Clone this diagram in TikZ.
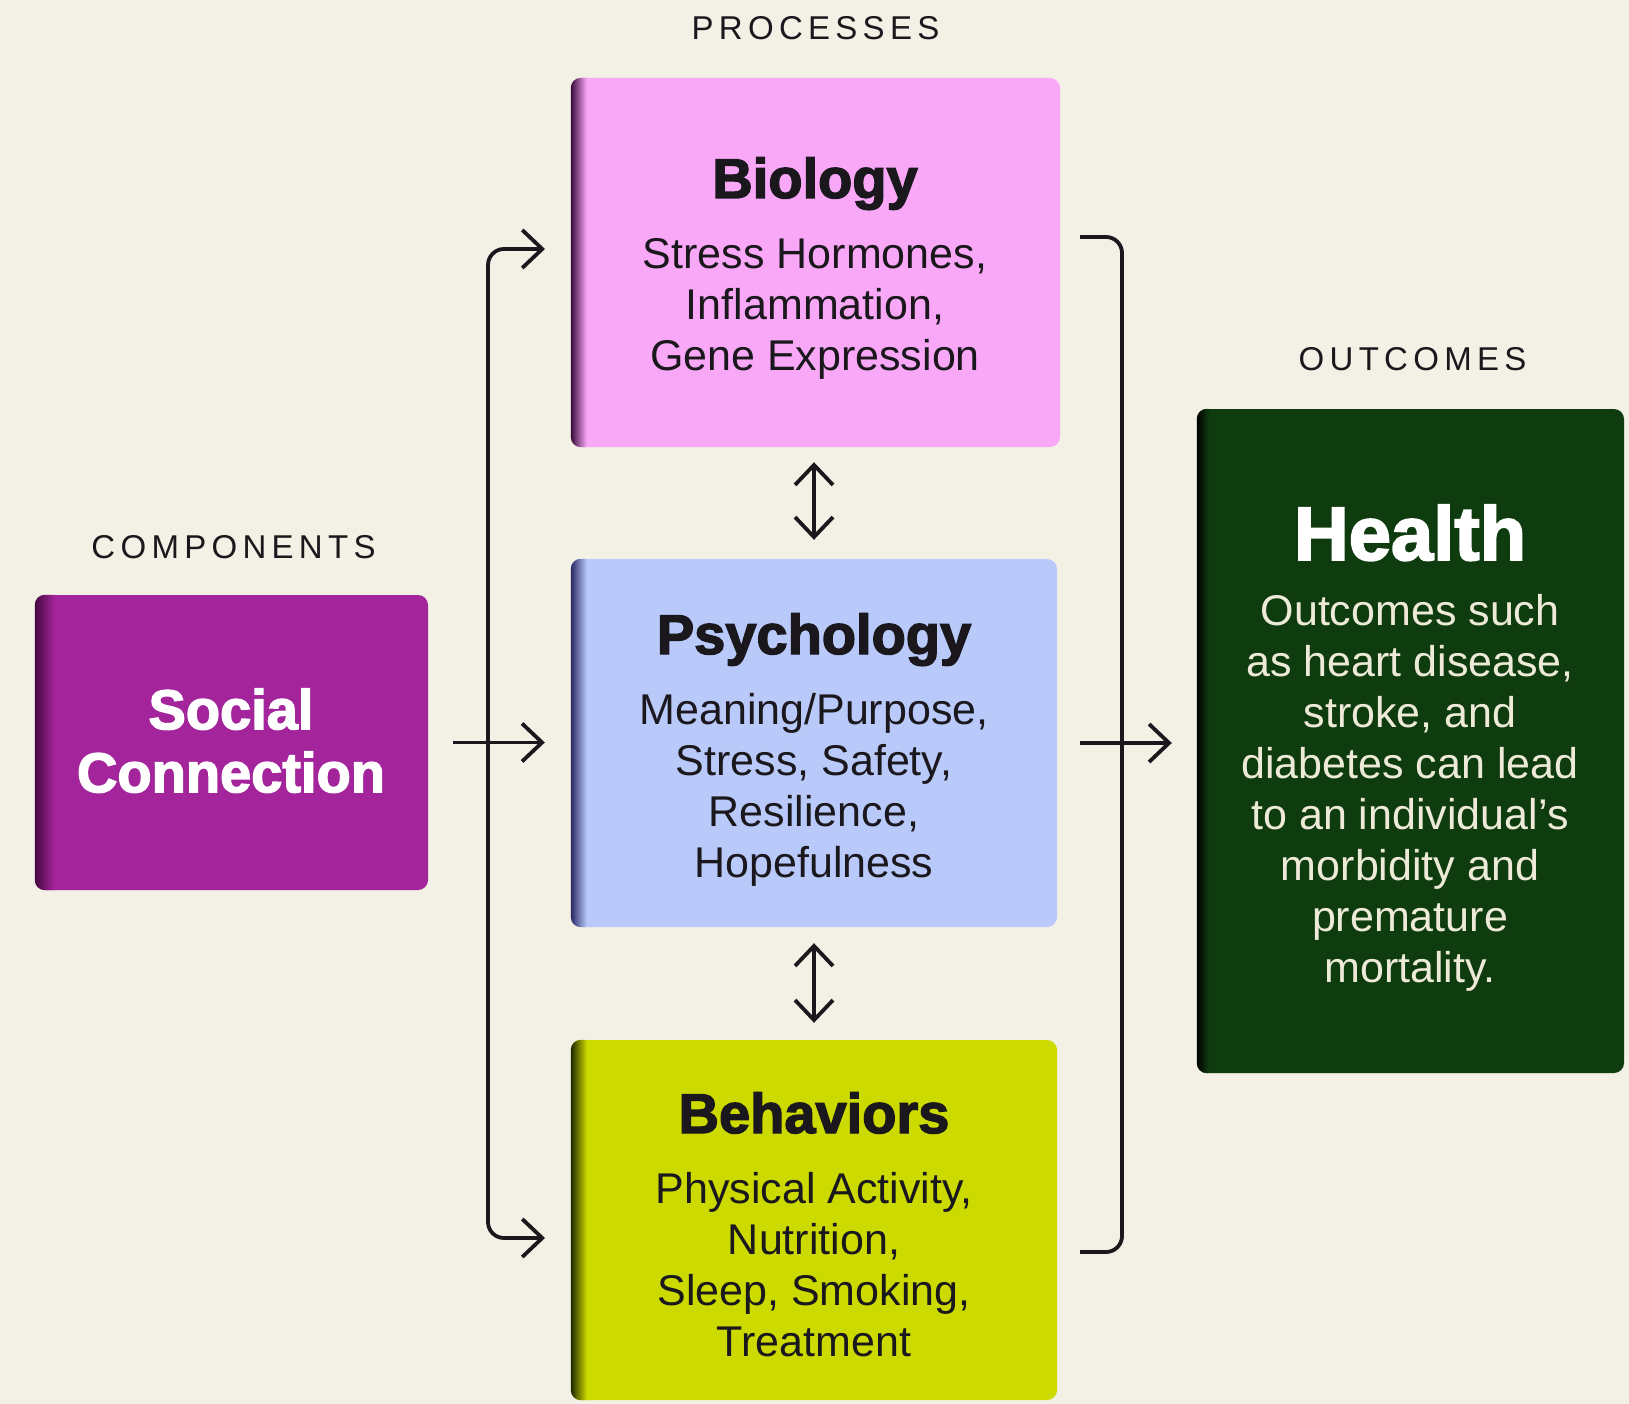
\documentclass[tikz,border=0pt]{standalone}
\usepackage{fontspec}
\setmainfont{Liberation Sans}
\newfontfamily\titlefont{Liberation Sans}[BoldFeatures={FakeBold=2.5}]
\newfontfamily\labelfont{Liberation Sans}[LetterSpace=16]
\usetikzlibrary{arrows.meta}
\definecolor{bg}{RGB}{243,240,229}
\definecolor{ink}{RGB}{26,24,28}
\definecolor{bioC}{RGB}{249,168,247}
\definecolor{bioM}{RGB}{216,76,216}
\definecolor{bioD}{RGB}{58,10,58}
\definecolor{psyC}{RGB}{185,201,250}
\definecolor{psyM}{RGB}{106,122,224}
\definecolor{psyD}{RGB}{40,40,100}
\definecolor{behC}{RGB}{204,218,0}
\definecolor{behM}{RGB}{111,154,16}
\definecolor{behD}{RGB}{30,40,0}
\definecolor{socC}{RGB}{163,36,155}
\definecolor{socM}{RGB}{130,22,124}
\definecolor{socD}{RGB}{70,8,66}
\definecolor{heaC}{RGB}{14,60,14}
\definecolor{heaM}{RGB}{6,38,8}
\definecolor{heaD}{RGB}{0,0,0}
\definecolor{cream}{RGB}{238,234,216}
\newcommand\boxedge[5]{%
  \begin{scope}
    \clip[rounded corners=10pt] (#1.north west) rectangle (#1.south east);
    \shade[left color=#2, middle color=#3, right color=#4]
      (#1.north west) rectangle ([xshift=#5]#1.south west);
  \end{scope}}
\begin{document}
\begin{tikzpicture}[x=1pt,y=-1pt,
  box/.style={rectangle, rounded corners=10pt, inner sep=0pt, draw=none},
  ttl/.style={anchor=base, inner sep=0pt, font=\titlefont\bfseries\fontsize{56}{63}\selectfont, text=ink},
  body/.style={anchor=north, align=center, inner sep=0pt, font=\fontsize{43}{51}\selectfont, text=ink},
  lbl/.style={anchor=base, inner sep=0pt, font=\labelfont\fontsize{33}{38}\selectfont, text=ink},
  conn/.style={line width=3.8pt, draw=ink},
  >={Straight Barb[length=20pt,width=38pt]}]
\useasboundingbox (0,0) rectangle (1629,1404);
\fill[bg] (0,0) rectangle (1629,1404);

% boxes
\node[box, fill=bioC, minimum width=489pt, minimum height=369pt] (bio) at (815.5,262.5) {};
\node[box, fill=psyC, minimum width=486pt, minimum height=368pt] (psy) at (814,743) {};
\node[box, fill=behC, minimum width=486pt, minimum height=360pt] (beh) at (814,1220) {};
\node[box, fill=socC, minimum width=393pt, minimum height=295pt] (soc) at (231.5,742.5) {};
\node[box, fill=heaC, minimum width=427pt, minimum height=664pt] (hea) at (1410.5,741) {};
\boxedge{bio}{bioD}{bioM}{bioC}{16pt}
\boxedge{psy}{psyD}{psyM}{psyC}{16pt}
\boxedge{beh}{behD}{behM}{behC}{16pt}
\boxedge{soc}{socD}{socM}{socC}{20pt}
\boxedge{hea}{heaD}{heaM}{heaC}{12pt}

% labels
\node[lbl] (lproc) at (815.5,40) {PROCESSES};
\node[lbl] (lcomp) at (233.5,558.5) {COMPONENTS};
\node[lbl] (lout) at (1412.5,370.5) {OUTCOMES};

% texts
\node[ttl] (bioT) at (815,198) {Biology};
\node[body] (bioB) at (815,236) {\rule{0pt}{32pt}Stress Hormones,\\Inflammation,\\Gene Expression};
\node[ttl] (psyT) at (814,654) {Psychology};
\node[body] (psyB) at (814,692) {\rule{0pt}{32pt}Meaning/Purpose,\\Stress, Safety,\\Resilience,\\Hopefulness};
\node[ttl] (behT) at (814,1133) {Behaviors};
\node[body] (behB) at (814,1171) {\rule{0pt}{32pt}Physical Activity,\\Nutrition,\\Sleep, Smoking,\\Treatment};
\node[anchor=north, align=center, inner sep=0pt, text=white,
      font=\titlefont\bfseries\fontsize{56}{63}\selectfont] (socT) at (231,687)
      {\rule{0pt}{42pt}Social\\Connection};
\node[anchor=base, inner sep=0pt, text=white,
      font=\titlefont\bfseries\fontsize{76}{80}\selectfont] (heaT) at (1410,560) {Health};
\node[body, text=cream] (heaB) at (1410,593) {\rule{0pt}{32pt}Outcomes such\\as heart disease,\\stroke, and\\diabetes can lead\\to an individual’s\\morbidity and\\premature\\mortality.};

% connectors
\coordinate (lTop) at (545,249);
\coordinate (lBot) at (545,1238);
\draw[conn, rounded corners=16pt, <->] (lTop) -- ++(-57,0) |- (lBot);
\draw[conn, ->] ([xshift=25pt]soc.east) -- ([xshift=-26pt]psy.west |- soc.east);

\draw[conn, <->, shorten <=15pt, shorten >=19pt] (psy.north |- bio.south) -- (psy.north);
\draw[conn, <->, shorten <=16pt, shorten >=17pt] (psy.south) -- (beh.north);

\coordinate (rTop) at (1080,237);
\coordinate (rBot) at (1080,1252);
\coordinate (rMid) at (1080,743);
\draw[conn, rounded corners=16pt] (rTop) -- ++(42,0) |- (rBot);
\draw[conn, ->, shorten >=25pt] (rMid) -- (hea.west |- rMid);
\end{tikzpicture}
\end{document}
